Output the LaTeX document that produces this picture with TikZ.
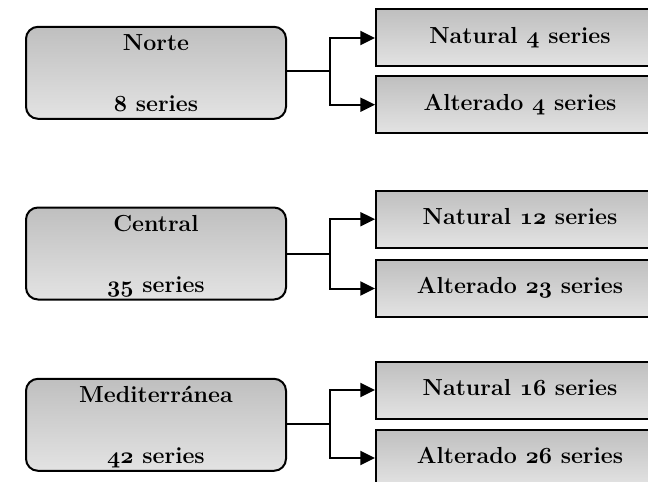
\documentclass[tikz,border=0pt]{standalone}
\usepackage{tikz}
\usetikzlibrary{positioning,calc,arrows.meta}
\definecolor{boxtop}{RGB}{191,191,191}
\definecolor{boxbottom}{RGB}{227,227,227}
\newcommand{\onum}[1]{{\usefont{OML}{cmm}{b}{it}#1}}

\begin{document}
\begin{tikzpicture}[x=0.75pt,y=-0.75pt,
  region/.style={draw,line width=1.5pt,rounded corners=9pt,top color=boxtop,bottom color=boxbottom,minimum width=195pt,minimum height=69pt},
  txt/.style={anchor=base,inner sep=0pt,font=\fontsize{17.4pt}{20pt}\selectfont\bfseries},
  series/.style={draw,line width=1.5pt,top color=boxtop,bottom color=boxbottom,minimum width=216pt,minimum height=42.75pt,text height=8.2pt,text depth=0pt,font=\fontsize{17.4pt}{20pt}\selectfont\bfseries},
  link/.style={line width=1.5pt,-{Triangle[length=11pt,width=10.5pt]}}]
\useasboundingbox (0,0) rectangle (648,481);
\clip (0,0) rectangle (648,481);
% Norte
\node [region] (norte) at (156,72.8) {};
\node [txt] (norte_a) at ($(norte.north)+(0,25)$) {Norte};
\node [txt] (norte_b) at ($(norte.north)+(0,86)$) {\onum{8} series};
\node [series] (nat_n) at (520,38) {Natural \onum{4} series};
\node [series] (alt_n) at (520,104.7) {Alterado \onum{4} series};
\coordinate (jn_n) at (330,71.3);
\draw [link] (norte.east |- jn_n) -- (jn_n) |- (nat_n);
\draw [link] (jn_n) |- (alt_n);
% Central
\node [region] (central) at (156,253.5) {};
\node [txt] (central_a) at ($(central.north)+(0,24.5)$) {Central};
\node [txt] (central_b) at ($(central.north)+(0,85.5)$) {\onum{35} series};
\node [series] (nat_c) at (520,219.2) {Natural \onum{12} series};
\node [series] (alt_c) at (520,288.5) {Alterado \onum{23} series};
\coordinate (jn_c) at (330,254);
\draw [link] (central.east |- jn_c) -- (jn_c) |- (nat_c);
\draw [link] (jn_c) |- (alt_c);
% Mediterranea
\node [region] (med) at (156,424.8) {};
\node [txt] (med_a) at ($(med.north)+(0,24.5)$) {Mediterránea};
\node [txt] (med_b) at ($(med.north)+(0,85.5)$) {\onum{42} series};
\node [series] (nat_m) at (520,390) {Natural \onum{16} series};
\node [series] (alt_m) at (520,458) {Alterado \onum{26} series};
\coordinate (jn_m) at (330,424);
\draw [link] (med.east |- jn_m) -- (jn_m) |- (nat_m);
\draw [link] (jn_m) |- (alt_m);
\end{tikzpicture}
\end{document}
